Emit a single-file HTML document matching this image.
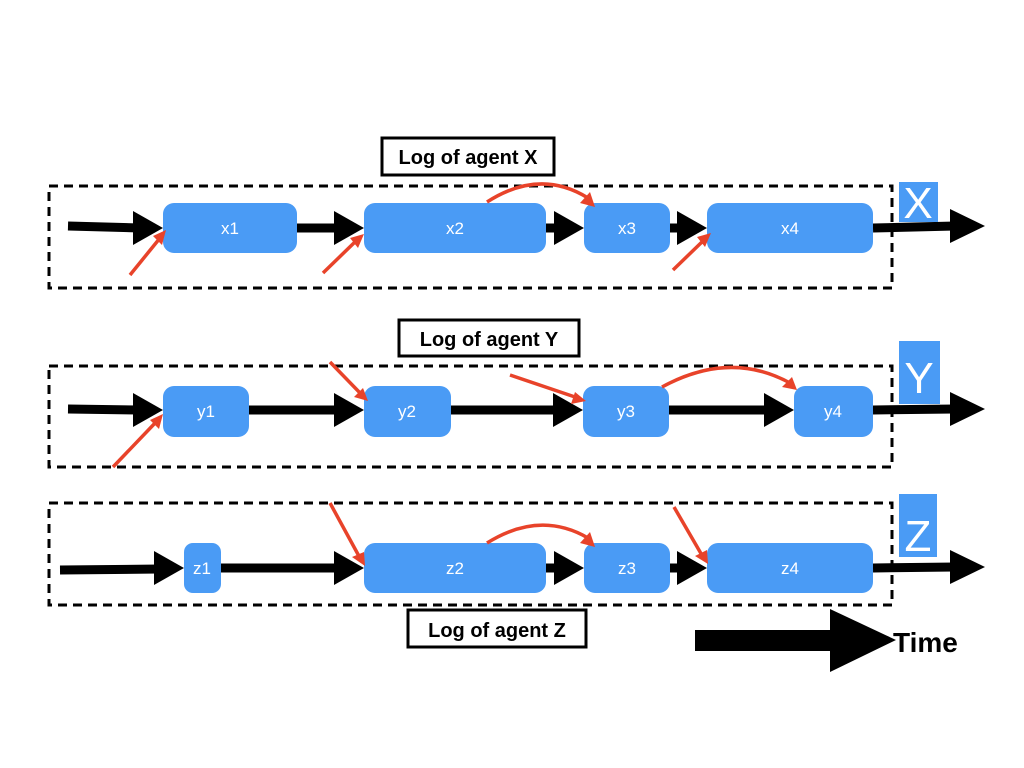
<!DOCTYPE html>
<html><head><meta charset="utf-8"><style>
html,body{margin:0;padding:0;background:#fff;}
svg{display:block;}
text{font-family:"Liberation Sans",sans-serif;}
</style></head><body>
<svg width="1024" height="768" viewBox="0 0 1024 768" xmlns="http://www.w3.org/2000/svg">
<g fill="none" stroke="#000" stroke-width="3" stroke-dasharray="9,6">
<rect x="49" y="186" width="843" height="102"/>
<rect x="49" y="366" width="843" height="101"/>
<rect x="49" y="503" width="843" height="102"/>
</g>
<g fill="#fff" stroke="#000" stroke-width="3">
<rect x="382" y="138" width="172" height="37"/>
<rect x="399" y="320" width="180" height="36"/>
<rect x="408" y="610" width="178" height="37"/>
</g>
<g font-size="20" font-weight="bold" text-anchor="middle" fill="#000">
<text x="468" y="164">Log of agent X</text>
<text x="489" y="346">Log of agent Y</text>
<text x="497" y="637">Log of agent Z</text>
</g>
<g stroke="#000" stroke-width="9">
<line x1="68" y1="226" x2="140" y2="228"/>
<line x1="297" y1="228" x2="340" y2="228"/>
<line x1="546" y1="228" x2="560" y2="228"/>
<line x1="670" y1="228" x2="684" y2="228"/>
<line x1="873" y1="228" x2="955" y2="226"/>
<line x1="68" y1="409" x2="140" y2="410"/>
<line x1="249" y1="410" x2="340" y2="410"/>
<line x1="451" y1="410" x2="560" y2="410"/>
<line x1="669" y1="410" x2="770" y2="410"/>
<line x1="873" y1="410" x2="955" y2="409"/>
<line x1="60" y1="570" x2="160" y2="569"/>
<line x1="220" y1="568" x2="340" y2="568"/>
<line x1="546" y1="568" x2="560" y2="568"/>
<line x1="670" y1="568" x2="684" y2="568"/>
<line x1="873" y1="568" x2="955" y2="567"/>
</g>
<g fill="#000">
<polygon points="133,211 163,228 133,245"/>
<polygon points="334,211 364,228 334,245"/>
<polygon points="554,211 584,228 554,245"/>
<polygon points="677,211 707,228 677,245"/>
<polygon points="950,209 985,226 950,243"/>
<polygon points="133,393 163,410 133,427"/>
<polygon points="334,393 364,410 334,427"/>
<polygon points="553,393 583,410 553,427"/>
<polygon points="764,393 794,410 764,427"/>
<polygon points="950,392 985,409 950,426"/>
<polygon points="154,551 184,568 154,585"/>
<polygon points="334,551 364,568 334,585"/>
<polygon points="554,551 584,568 554,585"/>
<polygon points="677,551 707,568 677,585"/>
<polygon points="950,550 985,567 950,584"/>
<rect x="695" y="630" width="140" height="21"/>
<polygon points="830,609 896,640 830,672"/>
</g>
<text x="893" y="652" font-size="28" font-weight="bold" fill="#000">Time</text>
<g fill="#4a9bf5">
<rect x="163" y="203" width="134" height="50" rx="11"/>
<rect x="364" y="203" width="182" height="50" rx="11"/>
<rect x="584" y="203" width="86" height="50" rx="11"/>
<rect x="707" y="203" width="166" height="50" rx="11"/>
<rect x="163" y="386" width="86" height="51" rx="11"/>
<rect x="364" y="386" width="87" height="51" rx="11"/>
<rect x="583" y="386" width="86" height="51" rx="11"/>
<rect x="794" y="386" width="79" height="51" rx="11"/>
<rect x="184" y="543" width="37" height="50" rx="9"/>
<rect x="364" y="543" width="182" height="50" rx="11"/>
<rect x="584" y="543" width="86" height="50" rx="11"/>
<rect x="707" y="543" width="166" height="50" rx="11"/>
<rect x="899" y="182" width="39" height="40"/>
<rect x="899" y="341" width="41" height="63"/>
<rect x="899" y="494" width="38" height="63"/>
</g>
<g fill="#fff" font-size="17" text-anchor="middle">
<text x="230" y="234">x1</text><text x="455" y="234">x2</text><text x="627" y="234">x3</text><text x="790" y="234">x4</text>
<text x="206" y="417">y1</text><text x="407" y="417">y2</text><text x="626" y="417">y3</text><text x="833" y="417">y4</text>
<text x="202" y="574">z1</text><text x="455" y="574">z2</text><text x="627" y="574">z3</text><text x="790" y="574">z4</text>
</g>
<g fill="#fff" font-size="44" text-anchor="middle">
<text x="918" y="218">X</text>
<text x="919" y="393">Y</text>
<text x="918" y="551">Z</text>
</g>
<g stroke="#e8432a" stroke-width="3.5" fill="none">
<line x1="130" y1="275" x2="160" y2="238"/>
<line x1="323" y1="273" x2="357" y2="240"/>
<path d="M487,202 Q540,168 588,198"/>
<line x1="673" y1="270" x2="704" y2="240"/>
<line x1="113" y1="467" x2="157" y2="421"/>
<line x1="330" y1="362" x2="362" y2="395"/>
<line x1="510" y1="375" x2="578" y2="398"/>
<path d="M662,387 Q730,350 790,383"/>
<line x1="330" y1="503" x2="360" y2="558"/>
<path d="M487,543 Q540,510 588,538"/>
<line x1="674" y1="507" x2="703" y2="557"/>
</g>
<g fill="#e8432a">
<polygon points="166,230 162,245 153,236"/>
<polygon points="364,234 358,248 350,238"/>
<polygon points="595,207 580,203 590,192"/>
<polygon points="711,233 705,247 697,237"/>
<polygon points="163,414 159,429 150,420"/>
<polygon points="368,401 354,397 363,388"/>
<polygon points="586,401 571,404 575,392"/>
<polygon points="797,390 782,387 792,377"/>
<polygon points="365,566 352,557 364,552"/>
<polygon points="595,547 580,543 590,532"/>
<polygon points="708,564 695,556 707,550"/>
</g>
</svg>
</body></html>
